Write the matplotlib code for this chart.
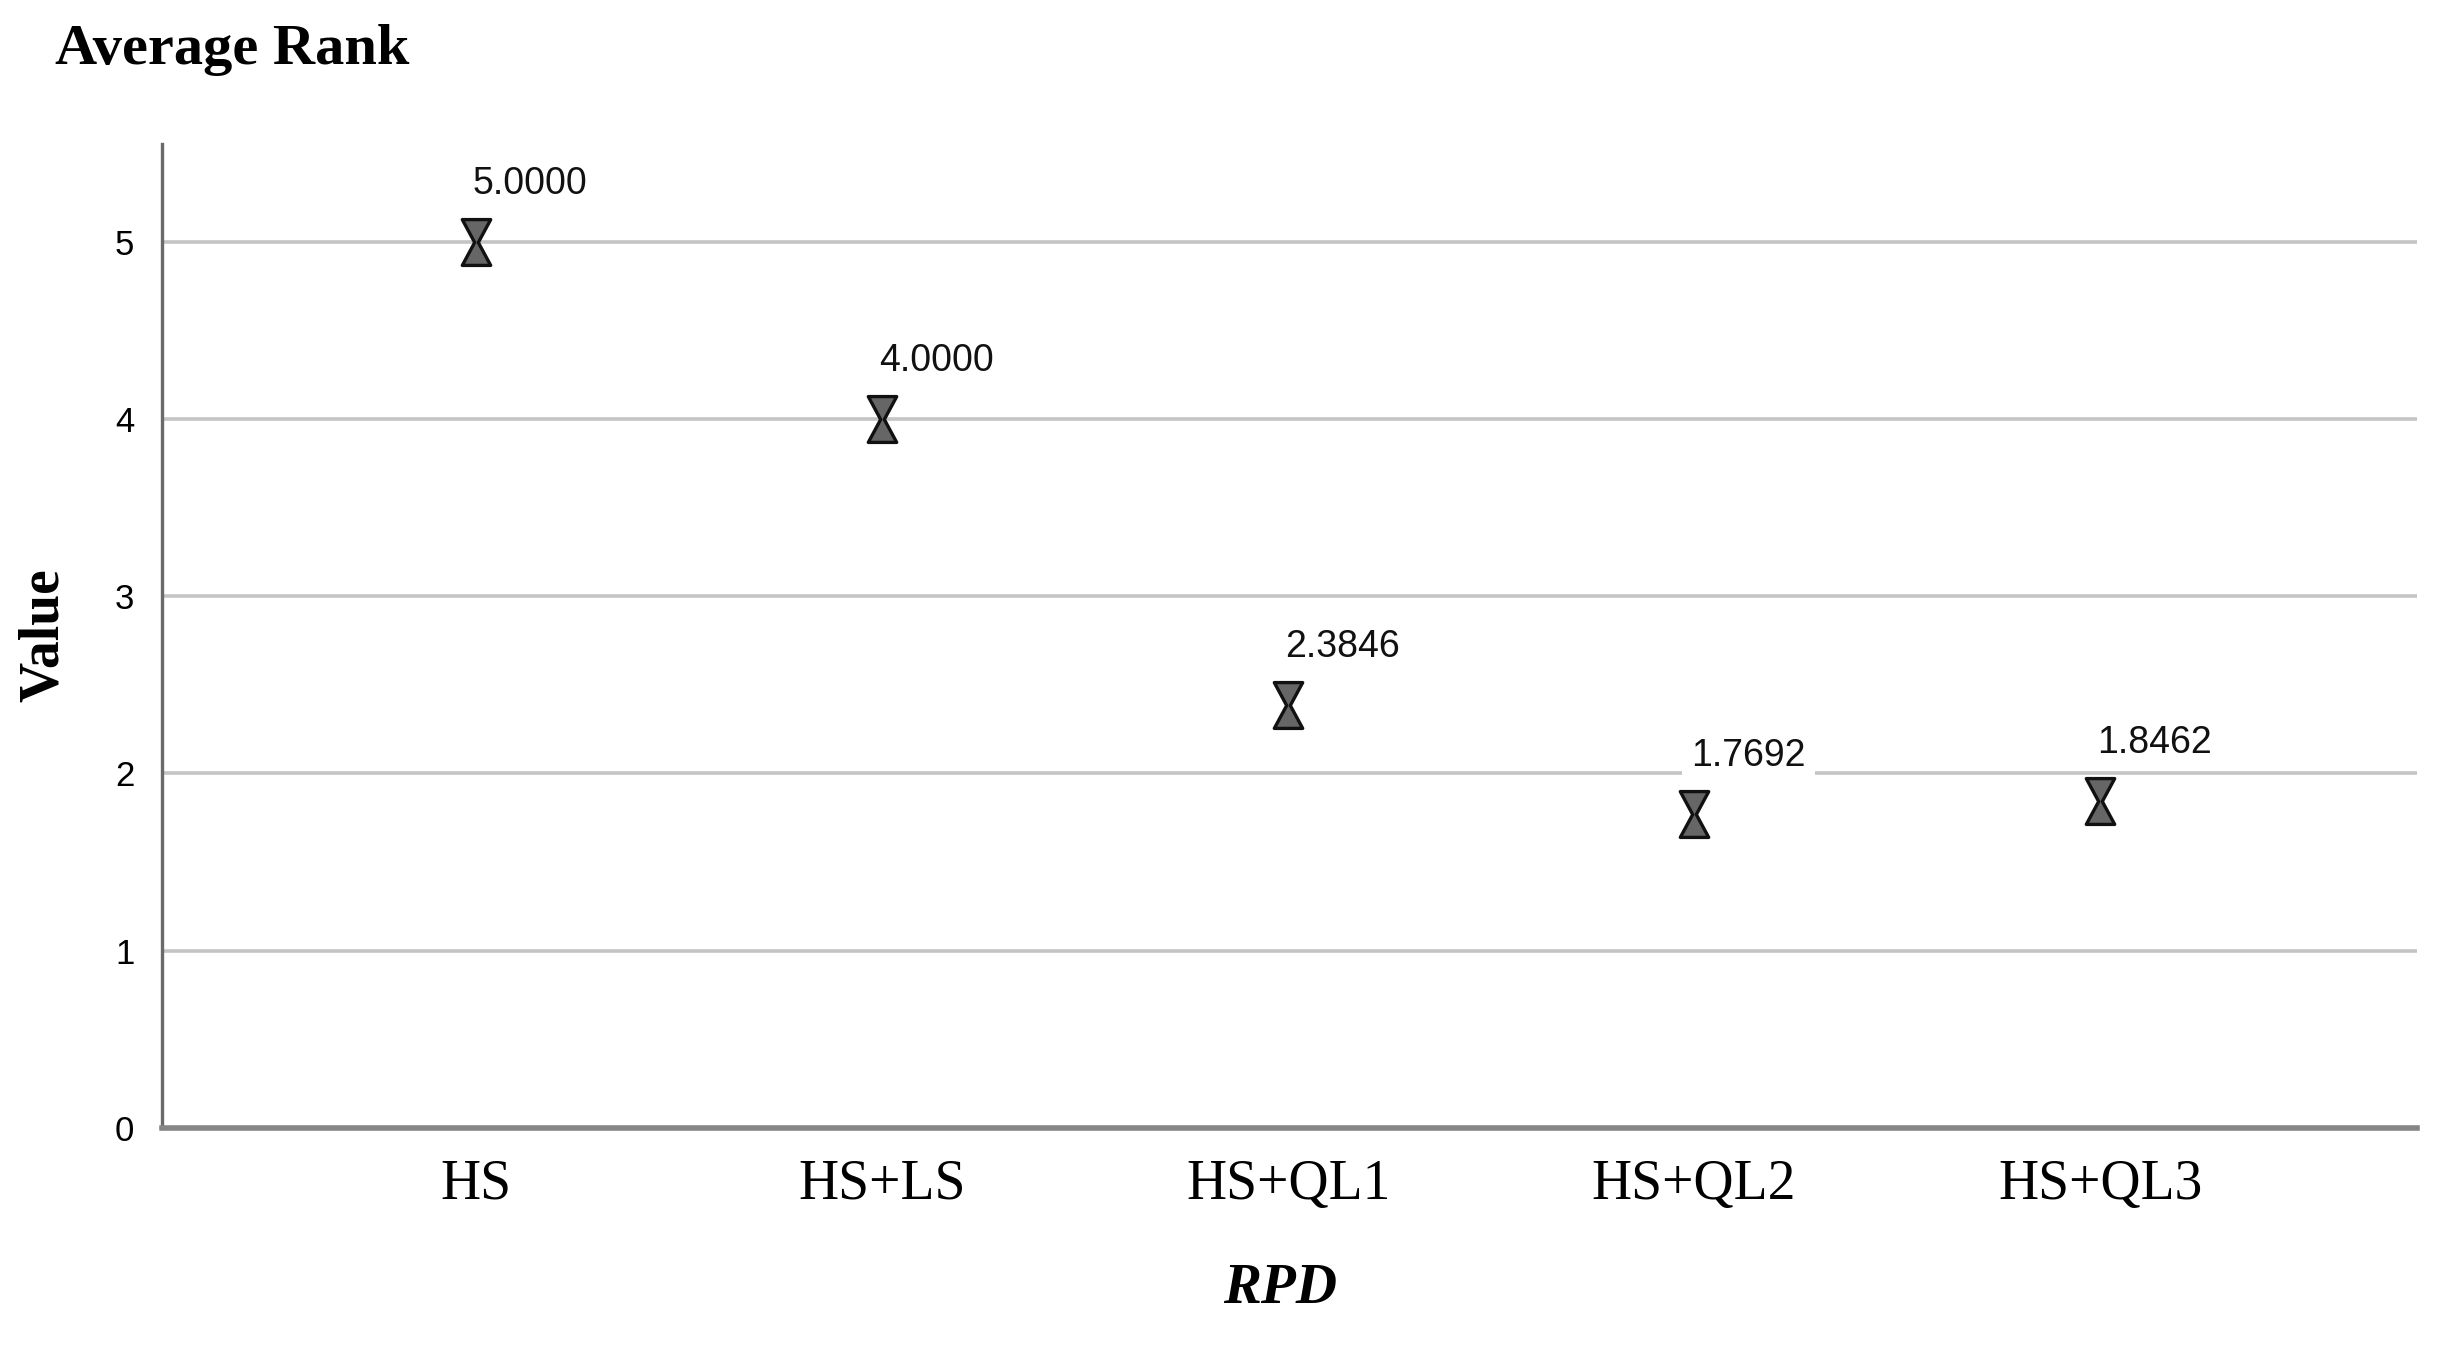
import matplotlib
matplotlib.use("Agg")
import matplotlib.pyplot as plt
from matplotlib.path import Path

# data
methods = ["HS", "HS+LS", "HS+QL1", "HS+QL2", "HS+QL3"]
avg_rank = [5.0000, 4.0000, 2.3846, 1.7692, 1.8462]
rank_labels = ["5.0000", "4.0000", "2.3846", "1.7692", "1.8462"]
y_ticks = [0, 1, 2, 3, 4, 5]

SERIF = "Liberation Serif"
SANS = "Liberation Sans"

# hourglass marker (SPSS style)
hourglass = Path(
    [(-0.62, 1.0), (0.62, 1.0), (0.08, 0.0), (0.62, -1.0),
     (-0.62, -1.0), (-0.08, 0.0), (-0.62, 1.0)],
    [Path.MOVETO] + [Path.LINETO] * 5 + [Path.CLOSEPOLY],
)

fig = plt.figure(figsize=(24.48, 13.46), dpi=100)
ax = fig.add_axes([0.0662, 0.162, 0.9211, 0.731])

x = list(range(len(methods)))

for yv in y_ticks[1:]:
    ax.axhline(yv, color="#c4c4c4", linewidth=2.6, zorder=1)

ax.plot(x, avg_rank, linestyle="none", marker=hourglass, markersize=33,
        markerfacecolor="#666666", markeredgecolor="#111111",
        markeredgewidth=2.4, zorder=3)

for xi, yi, lab in zip(x, avg_rank, rank_labels):
    ax.annotate(lab, (xi, yi), xytext=(-3, 58), textcoords="offset pixels",
                ha="left", va="center", fontsize=27, family=SANS,
                color="#111111", zorder=4,
                bbox=dict(boxstyle="square,pad=0.25", fc="white", ec="none"))

ax.set_xlim(-0.773, 4.78)
ax.set_ylim(0, 5.55)
ax.set_yticks(y_ticks)
ax.set_yticklabels([str(v) for v in y_ticks], fontsize=25, family=SANS)
ax.set_xticks(x)
ax.set_xticklabels(methods, fontsize=40, family=SERIF)
ax.tick_params(axis="y", length=0, pad=20)
ax.tick_params(axis="x", length=0, pad=22)

ax.spines["top"].set_visible(False)
ax.spines["right"].set_visible(False)
ax.spines["left"].set_color("#6a6a6a")
ax.spines["left"].set_linewidth(2.4)
ax.spines["bottom"].set_color("#858585")
ax.spines["bottom"].set_linewidth(4)

fig.text(55 / 2448, 1 - 50 / 1346, "Average Rank", family=SERIF,
         fontweight="bold", fontsize=42, ha="left", va="center")
fig.text(44 / 2448, 1 - 635 / 1346, "Value", family=SERIF,
         fontweight="bold", fontsize=40, rotation=90, ha="center", va="center")
fig.text(1280 / 2448, 1 - 1289 / 1346, "RPD", family=SERIF,
         fontweight="bold", fontstyle="italic", fontsize=41,
         ha="center", va="center")

fig.savefig("out.png", dpi=100, facecolor="white")
plt.close(fig)
